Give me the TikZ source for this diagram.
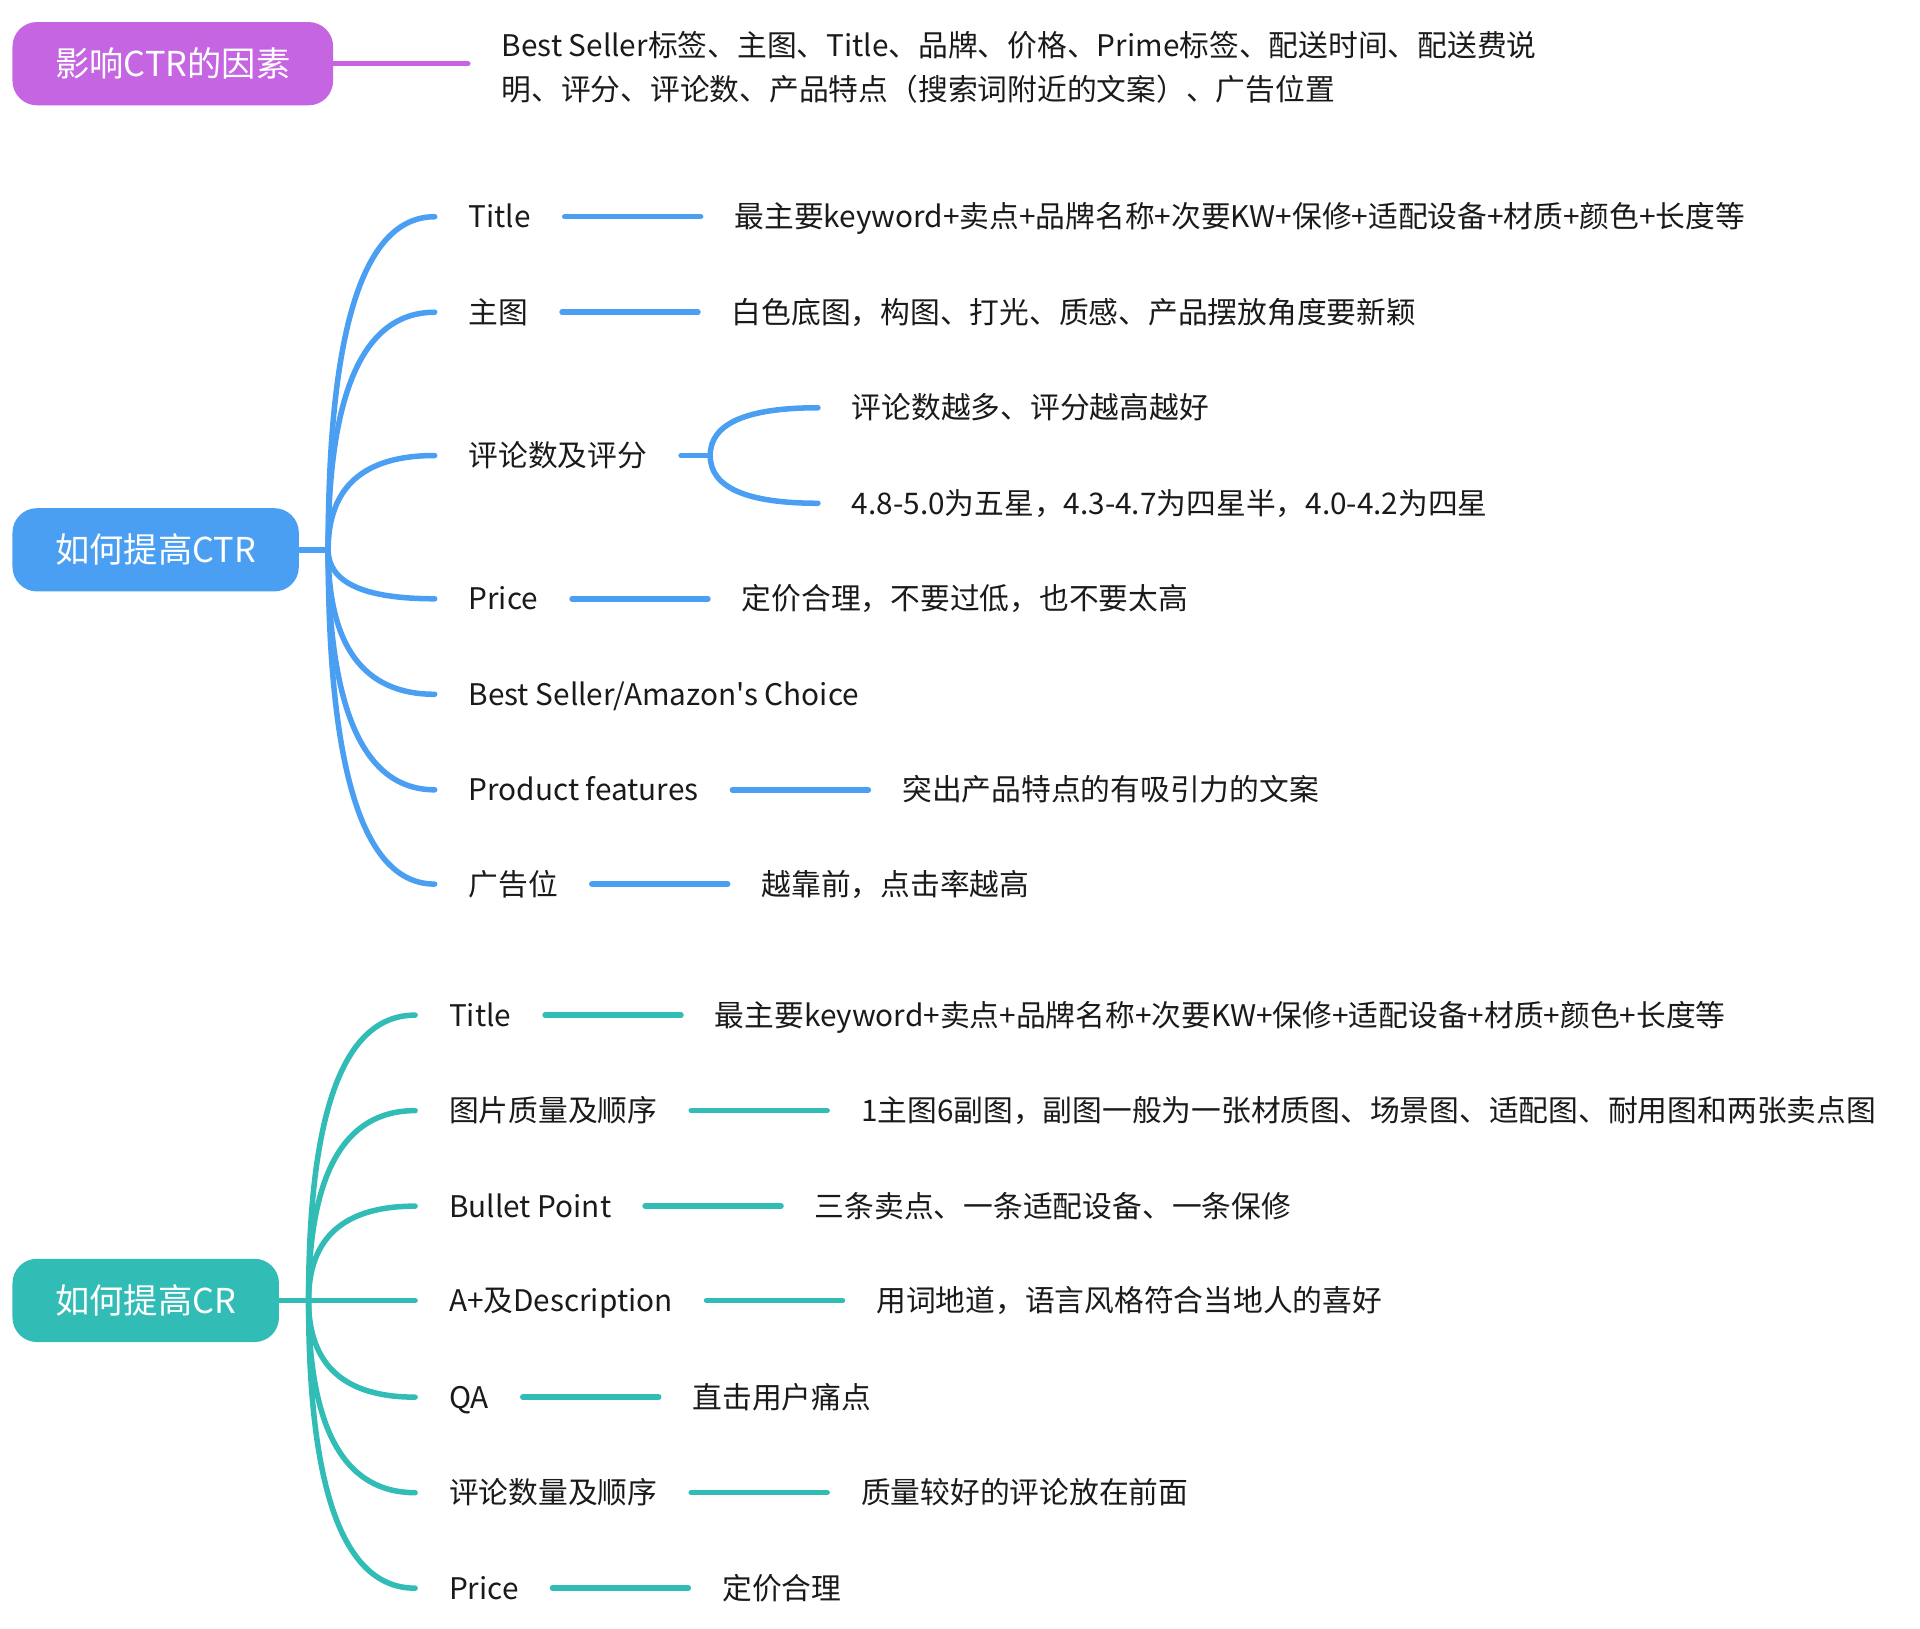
\documentclass[tikz,border=0pt]{standalone}
\usepackage{fontspec}
\setmainfont{Noto Sans CJK SC}[Ligatures=TeXOff]
\usepackage{xcolor}
\usepackage{tikz}
\usetikzlibrary{positioning, calc}
\definecolor{CtrPurple}{HTML}{C565E2}
\definecolor{CtrBlue}{HTML}{4B9FF2}
\definecolor{CrTeal}{HTML}{31BCB6}
\definecolor{InkDark}{HTML}{1A1A1A}

% curved branch: leaves the junction vertically, enters the topic horizontally
\newcommand{\branch}[3]{%
  \draw[#1] (#2) .. controls ($(#2)!0.667!(#2|-#3.west)$) and ($(#3.west)!0.667!(#2|-#3.west)$) .. (#3.west);}

\begin{document}
\begin{tikzpicture}[x=1pt, y=-1pt, line cap=round, node distance=111pt,
    root/.style={draw=none, rounded corners=20pt, text=white, minimum height=68pt, inner xsep=35pt, font=\fontsize{28}{32}\selectfont},
    topic/.style={inner ysep=0pt, inner xsep=27.5pt, text=InkDark, text height=19pt, text depth=1pt, font=\fontsize{24.3}{30}\selectfont},
    note/.style={inner sep=0pt, inner xsep=27.5pt, text=InkDark, align=left, font=\fontsize{24.3}{36}\selectfont},
    link/.style={line width=4.5pt}]
        \useasboundingbox (0,0) rectangle (1568,1330);

        % Factors
        \node[root, fill=CtrPurple, anchor=west] (why) at (10,52) {影响CTR的因素};
        \node[note, anchor=west] (whytxt) at (382,55) {Best Seller标签、主图、Title、品牌、价格、Prime标签、配送时间、配送费说\\明、评分、评论数、产品特点（搜索词附近的文案）、广告位置};
        \draw[link, CtrPurple] (why.east) -- (why.east -| whytxt.west);

        % CTR nodes
        \node[root, fill=CtrBlue, anchor=west] (ctr) at (10,449) {如何提高CTR};
        \coordinate (jctr) at (268,449);
        \node[topic, anchor=west] (t1) at (355,177) {Title};
        \node[topic, right=of t1] (d1) {最主要keyword+卖点+品牌名称+次要KW+保修+适配设备+材质+颜色+长度等};
        \node[topic, anchor=west] (t2) at (355,255) {主图};
        \node[topic, right=of t2] (d2) {白色底图，构图、打光、质感、产品摆放角度要新颖};
        \node[topic, anchor=west] (t3) at (355,372) {评论数及评分};
        \coordinate (fork) at (580,372);
        \node[topic, anchor=west] (s1) at (668,333) {评论数越多、评分越高越好};
        \node[topic, anchor=west] (s2) at (668,411) {4.8-5.0为五星，4.3-4.7为四星半，4.0-4.2为四星};
        \node[topic, anchor=west] (t4) at (355,489) {Price};
        \node[topic, right=of t4] (d4) {定价合理，不要过低，也不要太高};
        \node[topic, anchor=west] (t5) at (355,567) {Best Seller/Amazon's Choice};
        \node[topic, anchor=west] (t6) at (355,645) {Product features};
        \node[topic, right=of t6] (d6) {突出产品特点的有吸引力的文案};
        \node[topic, anchor=west] (t7) at (355,722) {广告位};
        \node[topic, right=of t7] (d7) {越靠前，点击率越高};

        % CTR lines
        \draw[link, CtrBlue] (ctr) -- (jctr);
        \foreach \n in {t1,t2,t3,t4,t5,t6,t7} {\branch{link, CtrBlue}{jctr}{\n}}
        \foreach \n/\m in {t1/d1, t2/d2, t4/d4, t6/d6, t7/d7} \draw[link, CtrBlue] (\n) -- (\m);
        \draw[link, CtrBlue] (t3.east) -- (fork);
        \branch{link, CtrBlue}{fork}{s1}
        \branch{link, CtrBlue}{fork}{s2}

        % CR nodes
        \node[root, fill=CrTeal, anchor=west] (cr) at (10,1062) {如何提高CR};
        \coordinate (jcr) at (252,1062);
        \node[topic, anchor=west] (c1) at (339,829) {Title};
        \node[topic, right=of c1] (e1) {最主要keyword+卖点+品牌名称+次要KW+保修+适配设备+材质+颜色+长度等};
        \node[topic, anchor=west] (c2) at (339,907) {图片质量及顺序};
        \node[topic, right=of c2] (e2) {1主图6副图，副图一般为一张材质图、场景图、适配图、耐用图和两张卖点图};
        \node[topic, anchor=west] (c3) at (339,985) {Bullet Point};
        \node[topic, right=of c3] (e3) {三条卖点、一条适配设备、一条保修};
        \node[topic, anchor=west] (c4) at (339,1062) {A+及Description};
        \node[topic, right=of c4] (e4) {用词地道，语言风格符合当地人的喜好};
        \node[topic, anchor=west] (c5) at (339,1141) {QA};
        \node[topic, right=of c5] (e5) {直击用户痛点};
        \node[topic, anchor=west] (c6) at (339,1219) {评论数量及顺序};
        \node[topic, right=of c6] (e6) {质量较好的评论放在前面};
        \node[topic, anchor=west] (c7) at (339,1297) {Price};
        \node[topic, right=of c7] (e7) {定价合理};

        % CR lines
        \draw[link, CrTeal] (cr) -- (jcr);
        \foreach \n in {c1,c2,c3,c4,c5,c6,c7} {\branch{link, CrTeal}{jcr}{\n}}
        \foreach \n/\m in {c1/e1, c2/e2, c3/e3, c4/e4, c5/e5, c6/e6, c7/e7} \draw[link, CrTeal] (\n) -- (\m);
    \end{tikzpicture}
\end{document}
